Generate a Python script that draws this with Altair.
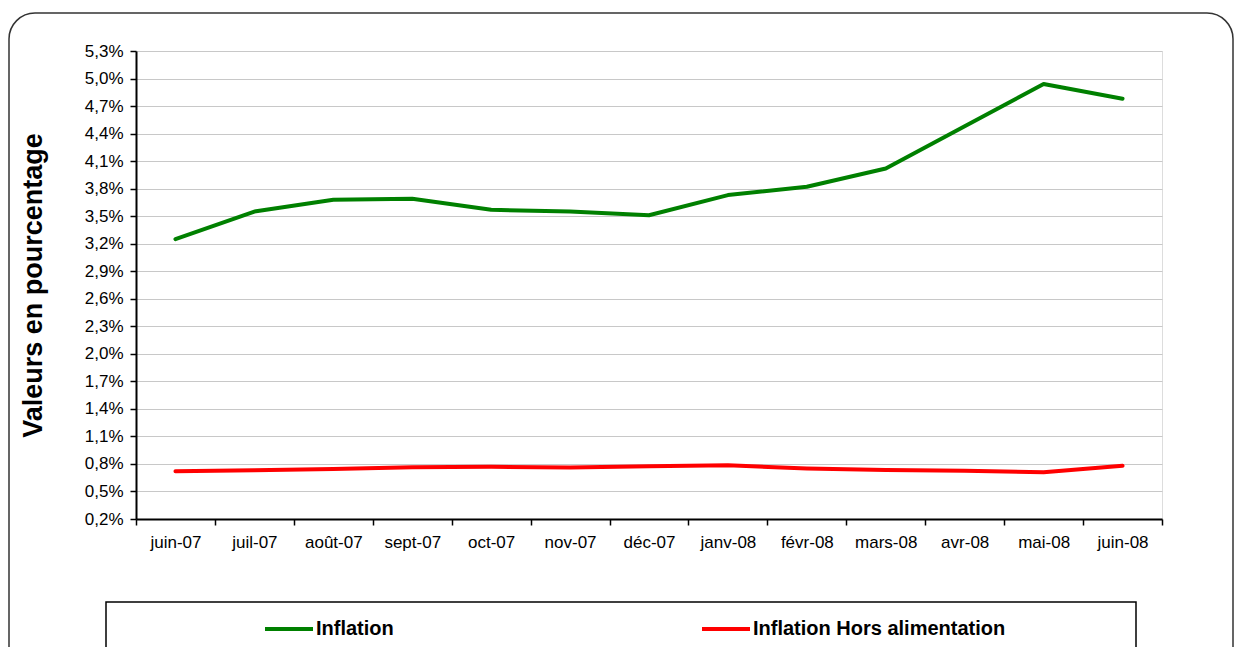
import altair as alt
import pandas as pd

months = ["juin-07", "juil-07", "août-07", "sept-07", "oct-07", "nov-07", "déc-07",
          "janv-08", "févr-08", "mars-08", "avr-08", "mai-08", "juin-08"]
inflation = [3.25, 3.55, 3.68, 3.69, 3.57, 3.55, 3.51, 3.73, 3.82, 4.02, 4.48, 4.94, 4.78]
inflation_hors_alim = [0.72, 0.73, 0.745, 0.765, 0.77, 0.76, 0.775, 0.785, 0.75, 0.734, 0.725, 0.71, 0.78]
series_names = ["Inflation", "Inflation Hors alimentation"]
series_colors = ["#008000", "#ff0000"]
y_ticks = [0.2, 0.5, 0.8, 1.1, 1.4, 1.7, 2.0, 2.3, 2.6, 2.9, 3.2, 3.5, 3.8, 4.1, 4.4, 4.7, 5.0, 5.3]

FONT = "Liberation Sans, Arial, sans-serif"

rows = []
for m, a, b in zip(months, inflation, inflation_hors_alim):
    rows.append({"mois": m, "valeur": a, "serie": series_names[0]})
    rows.append({"mois": m, "valeur": b, "serie": series_names[1]})
df = pd.DataFrame(rows)

one = pd.DataFrame({"k": [0]})

outer = alt.Chart(one).mark_rect(
    fill="white", fillOpacity=0, stroke="#333333", strokeWidth=1.5, cornerRadius=26
).encode(
    x=alt.value(-127), x2=alt.value(1097), y=alt.value(-38), y2=alt.value(640)
)

legend_box = alt.Chart(one).mark_rect(
    fill="white", fillOpacity=0, stroke="black", strokeWidth=1.5
).encode(
    x=alt.value(-30), x2=alt.value(1000), y=alt.value(551), y2=alt.value(640)
)

lines = alt.Chart(df).mark_line(strokeWidth=4, strokeCap="round", strokeJoin="round").encode(
    x=alt.X(
        "mois:N",
        sort=months,
        bandPosition=0.5,
        scale=alt.Scale(type="band", paddingInner=0, paddingOuter=0),
        axis=alt.Axis(
            title=None,
            tickBand="extent",
            labelAngle=0,
            labelFont=FONT,
            labelFontSize=17,
            labelColor="black",
            labelPadding=9,
            tickSize=6,
            tickColor="black",
            tickWidth=1.5,
            domainColor="black",
            domainWidth=2,
            grid=False,
        ),
    ),
    y=alt.Y(
        "valeur:Q",
        scale=alt.Scale(domain=[0.2, 5.3], nice=False, zero=False),
        axis=alt.Axis(
            values=y_ticks,
            labelExpr="replace(format(datum.value, '.1f'), '.', ',') + '%'",
            title="Valeurs en pourcentage",
            titleFont=FONT,
            titleFontSize=27,
            titleFontWeight="bold",
            titleColor="black",
            titleX=-103,
            titleY=234,
            titleAngle=270,
            titleAlign="center",
            titleBaseline="middle",
            labelFont=FONT,
            labelFontSize=17,
            labelColor="black",
            labelPadding=7,
            tickSize=6,
            tickColor="black",
            tickWidth=1.5,
            domainColor="black",
            domainWidth=2,
            grid=True,
            gridColor="#c8c8c8",
            gridWidth=1.2,
        ),
    ),
    color=alt.Color(
        "serie:N",
        sort=series_names,
        scale=alt.Scale(domain=series_names, range=series_colors),
        legend=alt.Legend(
            title=None,
            orient="none",
            legendX=127,
            legendY=552,
            direction="horizontal",
            symbolType="stroke",
            symbolSize=2304,
            symbolStrokeWidth=4,
            labelFont=FONT,
            labelFontSize=20,
            labelFontWeight="bold",
            labelColor="black",
            labelLimit=500,
            labelOffset=1,
            columnPadding=300,
            padding=0,
        ),
    ),
)

chart = alt.layer(outer, legend_box, lines).properties(
    width=1026,
    height=468,
    autosize=alt.AutoSizeParams(type="none"),
    padding={"left": 128, "top": 43, "right": 72, "bottom": 128},
).configure_view(
    stroke="black", strokeWidth=2
).configure(background="white")

chart.save("out.html", embed_options={"renderer": "svg", "actions": False})
